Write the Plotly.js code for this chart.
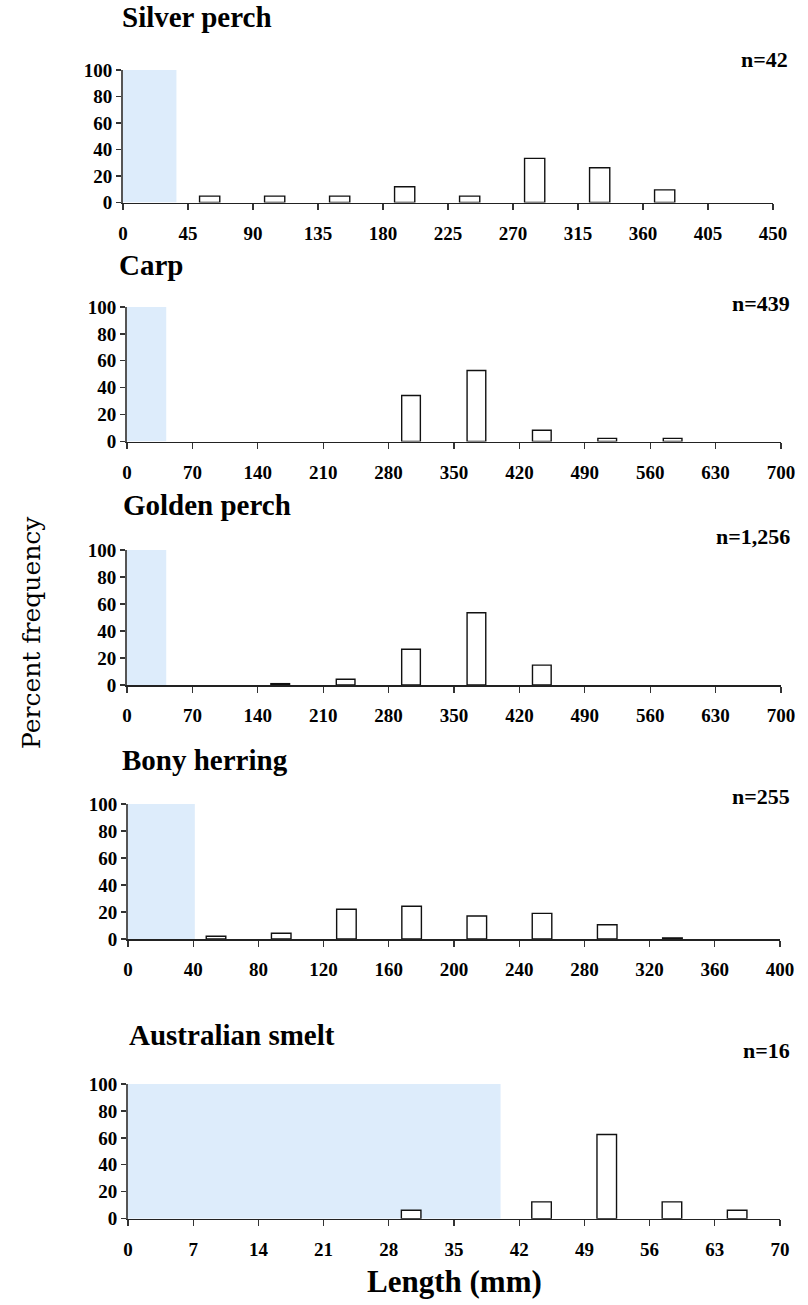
<!DOCTYPE html>
<html>
<head>
<meta charset="utf-8">
<script src="https://cdn.plot.ly/plotly-3.0.1.min.js"></script>
<style>html,body{margin:0;padding:0;background:#fff;}#chart{width:808px;height:1305px;}</style>
</head>
<body>
<div id="chart"></div>
<script>
// ---- data ----
const species = ["Silver perch", "Carp", "Golden perch", "Bony herring", "Australian smelt"];
const sampleSizes = ["n=42", "n=439", "n=1,256", "n=255", "n=16"];
const axisMax = [450, 700, 700, 400, 70];
const tickStep = [45, 70, 70, 40, 7];
const shadeEnd = [37, 42, 42, 41, 40];   // shaded length class (mm)

const silverLen = [60, 105, 150, 195, 240, 285, 330, 375];
const silverPct = [4.8, 4.8, 4.8, 11.9, 4.8, 33.3, 26.2, 9.5];
const carpLen = [304, 374, 444, 514, 584];
const carpPct = [34.2, 52.8, 8.4, 2.3, 2.3];
const goldenLen = [164, 234, 304, 374, 444];
const goldenPct = [1.0, 4.3, 26.5, 53.5, 14.7];
const bonyLen = [54, 94, 134, 174, 214, 254, 294, 334];
const bonyPct = [2.0, 4.3, 22.0, 24.3, 17.0, 19.0, 10.6, 0.8];
const smeltLen = [30.4, 44.4, 51.4, 58.4, 65.4];
const smeltPct = [6.25, 12.5, 62.5, 12.5, 6.25];

const seriesLen = [silverLen, carpLen, goldenLen, bonyLen, smeltLen];
const seriesPct = [silverPct, carpPct, goldenPct, bonyPct, smeltPct];

// ---- layout geometry (pixels) ----
const W = 808, H = 1305;
const plotX = [[123, 773], [127, 781], [127, 781], [128, 780], [128, 780]];
const plotY = [[70, 202.5], [307, 441.5], [550, 685], [804, 939], [1084, 1218.7]];
const titleY = [35, 283, 523, 778, 1053];
const titleX = [120, 117, 121, 120, 127];
const nY = [60, 303, 536, 796, 1050];
const nX = [790, 792, 792, 792, 792];
const barW = [14, 20, 20, 12, 2.1];

const px = v => v / W;
const py = v => 1 - v / H;

const serif = "Liberation Serif, Times New Roman, serif";
const traces = [];
const layout = {
  width: W, height: H,
  margin: {l: 0, r: 0, t: 0, b: 0},
  paper_bgcolor: "#fff", plot_bgcolor: "rgba(0,0,0,0)",
  showlegend: false,
  shapes: [], annotations: []
};

for (let i = 0; i < 5; i++) {
  const s = i === 0 ? "" : String(i + 1);
  traces.push({
    type: "bar",
    x: seriesLen[i], y: seriesPct[i],
    width: barW[i],
    xaxis: "x" + s, yaxis: "y" + s,
    marker: {color: "#ffffff", line: {color: "#111", width: 1.4}},
    hoverinfo: "x+y"
  });
  const tickFont = {family: serif, size: 19, color: "#000", weight: 700};
  layout["xaxis" + s] = {
    domain: [px(plotX[i][0]), px(plotX[i][1])],
    anchor: "y" + s,
    range: [0, axisMax[i]],
    tickmode: "linear", tick0: 0, dtick: tickStep[i],
    ticks: "outside", ticklen: 6, tickwidth: 1.3, tickcolor: "#333",
    showline: true, linecolor: "#222", linewidth: 1.6,
    showgrid: false, zeroline: false,
    tickfont: tickFont, ticklabelstandoff: 7,
    fixedrange: true
  };
  layout["yaxis" + s] = {
    domain: [py(plotY[i][1]), py(plotY[i][0])],
    anchor: "x" + s,
    range: [0, 100],
    tickmode: "linear", tick0: 0, dtick: 20,
    ticks: "outside", ticklen: 5, tickwidth: 1.3, tickcolor: "#333",
    showline: true, linecolor: "#555", linewidth: 2,
    showgrid: false, zeroline: false,
    tickfont: tickFont,
    fixedrange: true
  };
  layout.shapes.push({
    type: "rect", layer: "below",
    xref: "x" + s, yref: "y" + s,
    x0: 0, x1: shadeEnd[i], y0: 0, y1: 100,
    fillcolor: "#ddecfb", line: {width: 0}
  });
  layout.annotations.push({
    xref: "paper", yref: "paper",
    x: px(titleX[i]), y: py(titleY[i]),
    xanchor: "left", yanchor: "bottom",
    text: species[i], showarrow: false,
    font: {family: serif, size: 29, color: "#000", weight: 700}
  });
  layout.annotations.push({
    xref: "paper", yref: "paper",
    x: px(nX[i]), y: py(nY[i]),
    xanchor: "right", yanchor: "middle",
    text: sampleSizes[i], showarrow: false,
    font: {family: serif, size: 22, color: "#000", weight: 700}
  });
}

layout.annotations.push({
  xref: "paper", yref: "paper",
  x: px(31), y: py(633),
  xanchor: "center", yanchor: "middle",
  text: "Percent frequency", showarrow: false, textangle: -90,
  font: {family: "DejaVu Serif, serif", size: 25, color: "#000"}
});
layout.annotations.push({
  xref: "paper", yref: "paper",
  x: px(454), y: py(1281),
  xanchor: "center", yanchor: "middle",
  text: "Length (mm)", showarrow: false,
  font: {family: serif, size: 31, color: "#000", weight: 700}
});

Plotly.newPlot("chart", traces, layout, {displayModeBar: false, staticPlot: true});
</script>
</body>
</html>
